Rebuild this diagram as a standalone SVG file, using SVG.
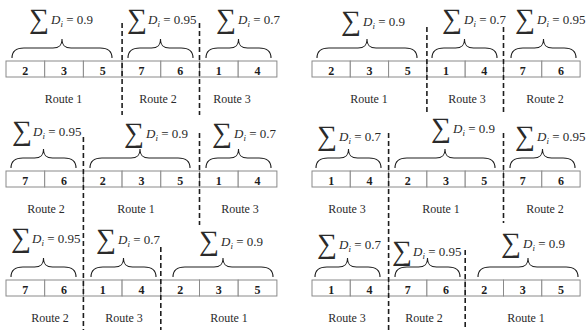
<svg xmlns="http://www.w3.org/2000/svg" xmlns:xlink="http://www.w3.org/1999/xlink" width="587" height="330" viewBox="0 0 587 330">
  <style>
    .cell { fill: #ffffff; stroke: #8a8a8a; stroke-width: 1; }
    .num { font-family: "Liberation Serif", "Times New Roman", serif; font-size: 12px; font-weight: bold; text-anchor: middle; fill: #1e1e1e; }
    .route { font-family: "Liberation Serif", "Times New Roman", serif; font-size: 12px; text-anchor: middle; fill: #2a2a2a; }
    .brace { fill: none; stroke: #1e1e1e; stroke-width: 1.1; }
    .sig { font-family: "Liberation Serif", "DejaVu Serif", serif; font-size: 28px; fill: #2a2a2a; }
    .eq { font-family: "Liberation Serif", "Times New Roman", serif; font-size: 13px; fill: #2a2a2a; }
    .it { font-style: italic; }
    .sub { font-style: italic; font-size: 9px; }
    .sep { stroke: #1e1e1e; stroke-width: 1.6; stroke-dasharray: 5 3; fill: none; }
  </style>
  <defs>
    <!-- curly braces drawn above a group of cells; y=0 is the top edge of the cells -->
    <path id="brace3" class="brace" d="M0,-3 C0,-10 4,-13 12,-13 L41,-13 C47,-13 50,-15 50,-22 C50,-15 53,-13 59,-13 L88,-13 C96,-13 100,-10 100,-3"/>
    <path id="brace2" class="brace" d="M0,-3 C0,-10 4,-13 12,-13 L23.5,-13 C29.5,-13 32.5,-15 32.5,-22 C32.5,-15 35.5,-13 41.5,-13 L53,-13 C61,-13 65,-10 65,-3"/>
  </defs>

  <!-- ===== Left panel ===== -->
  <!-- row 1 -->
  <g id="p1r1-route1">
    <rect class="cell" x="6" y="61" width="38.7" height="16"/>
    <rect class="cell" x="44.7" y="61" width="38.7" height="16"/>
    <rect class="cell" x="83.4" y="61" width="38.7" height="16"/>
    <text class="num" x="25.35" y="74.5">2</text>
    <text class="num" x="64.05" y="74.5">3</text>
    <text class="num" x="102.75" y="74.5">5</text>
    <use xlink:href="#brace3" x="12" y="61"/>
    <text class="sig" x="29" y="28">∑</text>
    <text class="eq" x="51" y="24"><tspan class="it">D</tspan><tspan class="sub" dy="3">i</tspan><tspan dy="-3"> = 0.9</tspan></text>
    <text class="route" x="63.5" y="103">Route 1</text>
  </g>
  <g id="p1r1-route2">
    <rect class="cell" x="122.1" y="61" width="38.7" height="16"/>
    <rect class="cell" x="160.8" y="61" width="38.7" height="16"/>
    <text class="num" x="141.45" y="74.5">7</text>
    <text class="num" x="180.15" y="74.5">6</text>
    <use xlink:href="#brace2" x="128" y="61"/>
    <text class="sig" x="127" y="28">∑</text>
    <text class="eq" x="148" y="24"><tspan class="it">D</tspan><tspan class="sub" dy="3">i</tspan><tspan dy="-3"> = 0.95</tspan></text>
    <text class="route" x="158" y="103">Route 2</text>
  </g>
  <g id="p1r1-route3">
    <rect class="cell" x="199.5" y="61" width="38.7" height="16"/>
    <rect class="cell" x="238.2" y="61" width="38.7" height="16"/>
    <text class="num" x="218.85" y="74.5">1</text>
    <text class="num" x="257.55" y="74.5">4</text>
    <use xlink:href="#brace2" x="206" y="61"/>
    <text class="sig" x="216" y="28">∑</text>
    <text class="eq" x="238" y="24"><tspan class="it">D</tspan><tspan class="sub" dy="3">i</tspan><tspan dy="-3"> = 0.7</tspan></text>
    <text class="route" x="232" y="103">Route 3</text>
  </g>

  <!-- row 2 -->
  <g id="p1r2-route2">
    <rect class="cell" x="6" y="171" width="38.7" height="16"/>
    <rect class="cell" x="44.7" y="171" width="38.7" height="16"/>
    <text class="num" x="25.35" y="184.5">7</text>
    <text class="num" x="64.05" y="184.5">6</text>
    <use xlink:href="#brace2" x="11" y="171"/>
    <text class="sig" x="12" y="140">∑</text>
    <text class="eq" x="33" y="136"><tspan class="it">D</tspan><tspan class="sub" dy="3">i</tspan><tspan dy="-3"> = 0.95</tspan></text>
    <text class="route" x="46" y="213">Route 2</text>
  </g>
  <g id="p1r2-route1">
    <rect class="cell" x="83.4" y="171" width="38.7" height="16"/>
    <rect class="cell" x="122.1" y="171" width="38.7" height="16"/>
    <rect class="cell" x="160.8" y="171" width="38.7" height="16"/>
    <text class="num" x="102.75" y="184.5">2</text>
    <text class="num" x="141.45" y="184.5">3</text>
    <text class="num" x="180.15" y="184.5">5</text>
    <use xlink:href="#brace3" x="90" y="171"/>
    <text class="sig" x="124" y="142">∑</text>
    <text class="eq" x="146" y="138"><tspan class="it">D</tspan><tspan class="sub" dy="3">i</tspan><tspan dy="-3"> = 0.9</tspan></text>
    <text class="route" x="136" y="213">Route 1</text>
  </g>
  <g id="p1r2-route3">
    <rect class="cell" x="199.5" y="171" width="38.7" height="16"/>
    <rect class="cell" x="238.2" y="171" width="38.7" height="16"/>
    <text class="num" x="218.85" y="184.5">1</text>
    <text class="num" x="257.55" y="184.5">4</text>
    <use xlink:href="#brace2" x="206" y="171"/>
    <text class="sig" x="212" y="142">∑</text>
    <text class="eq" x="234" y="138"><tspan class="it">D</tspan><tspan class="sub" dy="3">i</tspan><tspan dy="-3"> = 0.7</tspan></text>
    <text class="route" x="240" y="213">Route 3</text>
  </g>

  <!-- row 3 -->
  <g id="p1r3-route2">
    <rect class="cell" x="6" y="280" width="38.7" height="16"/>
    <rect class="cell" x="44.7" y="280" width="38.7" height="16"/>
    <text class="num" x="25.35" y="293.5">7</text>
    <text class="num" x="64.05" y="293.5">6</text>
    <use xlink:href="#brace2" x="11" y="280"/>
    <text class="sig" x="11" y="247">∑</text>
    <text class="eq" x="32" y="243"><tspan class="it">D</tspan><tspan class="sub" dy="3">i</tspan><tspan dy="-3"> = 0.95</tspan></text>
    <text class="route" x="50" y="322">Route 2</text>
  </g>
  <g id="p1r3-route3">
    <rect class="cell" x="83.4" y="280" width="38.7" height="16"/>
    <rect class="cell" x="122.1" y="280" width="38.7" height="16"/>
    <text class="num" x="102.75" y="293.5">1</text>
    <text class="num" x="141.45" y="293.5">4</text>
    <use xlink:href="#brace2" x="91" y="280"/>
    <text class="sig" x="96" y="248">∑</text>
    <text class="eq" x="118" y="244"><tspan class="it">D</tspan><tspan class="sub" dy="3">i</tspan><tspan dy="-3"> = 0.7</tspan></text>
    <text class="route" x="124" y="322">Route 3</text>
  </g>
  <g id="p1r3-route1">
    <rect class="cell" x="160.8" y="280" width="38.7" height="16"/>
    <rect class="cell" x="199.5" y="280" width="38.7" height="16"/>
    <rect class="cell" x="238.2" y="280" width="38.7" height="16"/>
    <text class="num" x="180.15" y="293.5">2</text>
    <text class="num" x="218.85" y="293.5">3</text>
    <text class="num" x="257.55" y="293.5">5</text>
    <use xlink:href="#brace3" x="173" y="280"/>
    <text class="sig" x="199" y="250">∑</text>
    <text class="eq" x="221" y="246"><tspan class="it">D</tspan><tspan class="sub" dy="3">i</tspan><tspan dy="-3"> = 0.9</tspan></text>
    <text class="route" x="229" y="322">Route 1</text>
  </g>

  <!-- ===== Right panel ===== -->
  <!-- row 1 -->
  <g id="p2r1-route1">
    <rect class="cell" x="312" y="61" width="38.3" height="16"/>
    <rect class="cell" x="350.3" y="61" width="38.3" height="16"/>
    <rect class="cell" x="388.6" y="61" width="38.3" height="16"/>
    <text class="num" x="331.15" y="74.5">2</text>
    <text class="num" x="369.45" y="74.5">3</text>
    <text class="num" x="407.75" y="74.5">5</text>
    <use xlink:href="#brace3" x="317" y="61"/>
    <text class="sig" x="341" y="30">∑</text>
    <text class="eq" x="363" y="26"><tspan class="it">D</tspan><tspan class="sub" dy="3">i</tspan><tspan dy="-3"> = 0.9</tspan></text>
    <text class="route" x="369" y="103">Route 1</text>
  </g>
  <g id="p2r1-route3">
    <rect class="cell" x="426.9" y="61" width="38.3" height="16"/>
    <rect class="cell" x="465.2" y="61" width="38.3" height="16"/>
    <text class="num" x="446.05" y="74.5">1</text>
    <text class="num" x="484.35" y="74.5">4</text>
    <use xlink:href="#brace2" x="432" y="61"/>
    <text class="sig" x="442" y="28">∑</text>
    <text class="eq" x="464" y="24"><tspan class="it">D</tspan><tspan class="sub" dy="3">i</tspan><tspan dy="-3"> = 0.7</tspan></text>
    <text class="route" x="467" y="103">Route 3</text>
  </g>
  <g id="p2r1-route2">
    <rect class="cell" x="503.5" y="61" width="38.3" height="16"/>
    <rect class="cell" x="541.8" y="61" width="38.3" height="16"/>
    <text class="num" x="522.65" y="74.5">7</text>
    <text class="num" x="560.95" y="74.5">6</text>
    <use xlink:href="#brace2" x="511" y="61"/>
    <text class="sig" x="515" y="28">∑</text>
    <text class="eq" x="537" y="24"><tspan class="it">D</tspan><tspan class="sub" dy="3">i</tspan><tspan dy="-3"> = 0.95</tspan></text>
    <text class="route" x="545" y="103">Route 2</text>
  </g>

  <!-- row 2 -->
  <g id="p2r2-route3">
    <rect class="cell" x="312" y="171" width="38.3" height="16"/>
    <rect class="cell" x="350.3" y="171" width="38.3" height="16"/>
    <text class="num" x="331.15" y="184.5">1</text>
    <text class="num" x="369.45" y="184.5">4</text>
    <use xlink:href="#brace2" x="316" y="171"/>
    <text class="sig" x="317" y="145">∑</text>
    <text class="eq" x="339" y="141"><tspan class="it">D</tspan><tspan class="sub" dy="3">i</tspan><tspan dy="-3"> = 0.7</tspan></text>
    <text class="route" x="347" y="213">Route 3</text>
  </g>
  <g id="p2r2-route1">
    <rect class="cell" x="388.6" y="171" width="38.3" height="16"/>
    <rect class="cell" x="426.9" y="171" width="38.3" height="16"/>
    <rect class="cell" x="465.2" y="171" width="38.3" height="16"/>
    <text class="num" x="407.75" y="184.5">2</text>
    <text class="num" x="446.05" y="184.5">3</text>
    <text class="num" x="484.35" y="184.5">5</text>
    <use xlink:href="#brace3" x="395" y="171"/>
    <text class="sig" x="431" y="137">∑</text>
    <text class="eq" x="453" y="133"><tspan class="it">D</tspan><tspan class="sub" dy="3">i</tspan><tspan dy="-3"> = 0.9</tspan></text>
    <text class="route" x="441" y="213">Route 1</text>
  </g>
  <g id="p2r2-route2">
    <rect class="cell" x="503.5" y="171" width="38.3" height="16"/>
    <rect class="cell" x="541.8" y="171" width="38.3" height="16"/>
    <text class="num" x="522.65" y="184.5">7</text>
    <text class="num" x="560.95" y="184.5">6</text>
    <use xlink:href="#brace2" x="510" y="171"/>
    <text class="sig" x="515" y="145">∑</text>
    <text class="eq" x="537" y="141"><tspan class="it">D</tspan><tspan class="sub" dy="3">i</tspan><tspan dy="-3"> = 0.95</tspan></text>
    <text class="route" x="545" y="213">Route 2</text>
  </g>

  <!-- row 3 -->
  <g id="p2r3-route3">
    <rect class="cell" x="312" y="280" width="38.3" height="16"/>
    <rect class="cell" x="350.3" y="280" width="38.3" height="16"/>
    <text class="num" x="331.15" y="293.5">1</text>
    <text class="num" x="369.45" y="293.5">4</text>
    <use xlink:href="#brace2" x="315" y="280"/>
    <text class="sig" x="317" y="253">∑</text>
    <text class="eq" x="339" y="249"><tspan class="it">D</tspan><tspan class="sub" dy="3">i</tspan><tspan dy="-3"> = 0.7</tspan></text>
    <text class="route" x="347" y="322">Route 3</text>
  </g>
  <g id="p2r3-route2">
    <rect class="cell" x="388.6" y="280" width="38.3" height="16"/>
    <rect class="cell" x="426.9" y="280" width="38.3" height="16"/>
    <text class="num" x="407.75" y="293.5">7</text>
    <text class="num" x="446.05" y="293.5">6</text>
    <use xlink:href="#brace2" x="395" y="280"/>
    <text class="sig" x="392" y="260">∑</text>
    <text class="eq" x="413" y="256"><tspan class="it">D</tspan><tspan class="sub" dy="3">i</tspan><tspan dy="-3"> = 0.95</tspan></text>
    <text class="route" x="424" y="322">Route 2</text>
  </g>
  <g id="p2r3-route1">
    <rect class="cell" x="465.2" y="280" width="38.3" height="16"/>
    <rect class="cell" x="503.5" y="280" width="38.3" height="16"/>
    <rect class="cell" x="541.8" y="280" width="38.3" height="16"/>
    <text class="num" x="484.35" y="293.5">2</text>
    <text class="num" x="522.65" y="293.5">3</text>
    <text class="num" x="560.95" y="293.5">5</text>
    <use xlink:href="#brace3" x="478" y="280"/>
    <text class="sig" x="501" y="252">∑</text>
    <text class="eq" x="523" y="248"><tspan class="it">D</tspan><tspan class="sub" dy="3">i</tspan><tspan dy="-3"> = 0.9</tspan></text>
    <text class="route" x="526" y="322">Route 1</text>
  </g>

  <!-- dashed separators between routes -->
  <g id="separators">
    <line class="sep" x1="122.1" y1="23" x2="122.1" y2="115"/>
    <line class="sep" x1="199.5" y1="23" x2="199.5" y2="115"/>
    <line class="sep" x1="83.4" y1="137" x2="83.4" y2="330"/>
    <line class="sep" x1="199.5" y1="133" x2="199.5" y2="225"/>
    <line class="sep" x1="160.8" y1="247" x2="160.8" y2="330"/>
    <line class="sep" x1="426.9" y1="27" x2="426.9" y2="115"/>
    <line class="sep" x1="503.5" y1="27" x2="503.5" y2="115"/>
    <line class="sep" x1="388.6" y1="133" x2="388.6" y2="330"/>
    <line class="sep" x1="503.5" y1="133" x2="503.5" y2="223"/>
    <line class="sep" x1="465.2" y1="250" x2="465.2" y2="330"/>
  </g>
</svg>
